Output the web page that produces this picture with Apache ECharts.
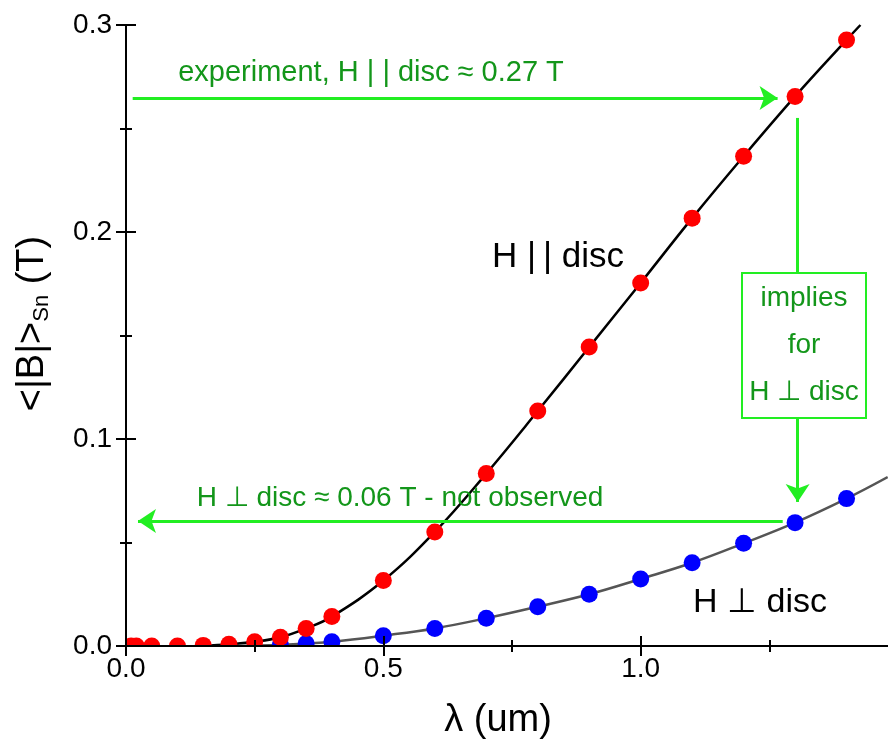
<!DOCTYPE html>
<html>
<head>
<meta charset="utf-8">
<script src="https://cdn.jsdelivr.net/npm/echarts@6/dist/echarts.min.js"></script>
<style>
  html, body { margin: 0; padding: 0; background: #fff; }
  #chart { width: 888px; height: 744px; }
</style>
</head>
<body>
<div id="chart"></div>
<script>
// H || disc, red points
const lambdaPar = [0.01, 0.02, 0.05, 0.1, 0.15, 0.2, 0.25, 0.3, 0.35, 0.4, 0.5, 0.6, 0.7, 0.8, 0.9, 1.0, 1.1, 1.2, 1.3, 1.4]
const bPar = [0, 0, 0, 0, 0.0003, 0.0008, 0.002, 0.0042, 0.0085, 0.0142, 0.0316, 0.0551, 0.0833, 0.1135, 0.1444, 0.1754, 0.2067, 0.2366, 0.2655, 0.2928]
// H ⊥ disc, blue points
const lambdaPerp = [0.3, 0.35, 0.4, 0.5, 0.6, 0.7, 0.8, 0.9, 1.0, 1.1, 1.2, 1.3, 1.4]
const bPerp = [0.0005, 0.0012, 0.002, 0.005, 0.0085, 0.0134, 0.019, 0.025, 0.0324, 0.0402, 0.0496, 0.0596, 0.0712]
// where the two curves start and leave the frame
const parStart = [0.15, 0], parEnd = [1.427, 0.3]
const perpStart = [0.2, 0], perpEnd = [1.48, 0.0816]
// annotation levels (data units)
const expLevel = 0.2647, perpLevel = 0.0604, arrowX = 1.305

const font = "Liberation Sans"
const green = "#22ee22", greenText = "#13961a"

const pairs = (xs, ys) => xs.map((x, i) => [x, ys[i]])
const parFit = [parStart].concat(pairs(lambdaPar, bPar).filter(p => p[0] > 0.15), [parEnd])
const perpFit = [perpStart].concat(pairs(lambdaPerp, bPerp), [perpEnd])

const tickStyle = { color: "#000", width: 2 }
function xAx(pos, labels) {
  return {
    type: "value", min: 0, max: 1.5, interval: 0.5, position: pos, z: 10,
    axisLine: { lineStyle: tickStyle },
    axisTick: { inside: true, length: 10, lineStyle: tickStyle },
    minorTick: { show: true, splitNumber: 2, length: 6, lineStyle: tickStyle },
    splitLine: { show: false },
    axisLabel: labels ? {
      color: "#000", fontSize: 28, fontFamily: font, margin: 9,
      formatter: v => (v > 1.2 ? "" : v.toFixed(1))
    } : { show: false }
  }
}
function yAx(pos, labels) {
  return {
    type: "value", min: 0, max: 0.3, interval: 0.1, position: pos, z: 10,
    axisLine: { lineStyle: tickStyle },
    axisTick: { inside: true, length: 10, lineStyle: tickStyle },
    minorTick: { show: true, splitNumber: 2, length: 6, lineStyle: tickStyle },
    splitLine: { show: false },
    axisLabel: labels ? {
      color: "#000", fontSize: 28, fontFamily: font, margin: 14,
      formatter: v => v.toFixed(1)
    } : { show: false }
  }
}

const bottomX = xAx("bottom", true)
bottomX.name = "λ (um)"
bottomX.nameLocation = "middle"
bottomX.nameGap = 56
bottomX.nameTextStyle = { fontSize: 38, fontFamily: font, color: "#000", padding: [0, 28, 0, 0] }

const leftY = yAx("left", true)
leftY.name = "<|B|>{s|Sn} (T)"
leftY.nameLocation = "middle"
leftY.nameRotate = 90
leftY.nameGap = 73
leftY.nameTextStyle = {
  fontSize: 38, fontFamily: font, color: "#000", padding: [0, 0, 0, 24],
  rich: { s: { fontSize: 22, fontFamily: font, color: "#000", padding: [18, 0, 0, 0] } }
}

const arrow = (from, to) => [
  { coord: from, symbol: "none" },
  { coord: to, symbol: "arrow" }
]

const gText = (x, y, text, size) => ({
  type: "text", z: 7, x, y,
  style: { text, fill: greenText, font: `${size || 28}px "${font}"`, align: "center", verticalAlign: "middle" }
})

const chart = echarts.init(document.getElementById("chart"))
chart.setOption({
  animation: false,
  grid: { left: 126, top: 25, width: 772, height: 621, outerBoundsMode: "none", containLabel: false },
  xAxis: [bottomX, xAx("top", false)],
  yAxis: [leftY, yAx("right", false)],
  series: [
    {
      type: "line", data: perpFit, smooth: 0.4,
      showSymbol: false, lineStyle: { color: "#555", width: 2.5 }, z: 2
    },
    {
      type: "line", data: parFit, smooth: 0.4,
      showSymbol: false, lineStyle: { color: "#000", width: 2.5 }, z: 2
    },
    {
      type: "scatter", data: pairs(lambdaPerp, bPerp), symbolSize: 17,
      itemStyle: { color: "#0000ff", opacity: 1 }, z: 3
    },
    {
      type: "scatter", data: pairs(lambdaPar, bPar), symbolSize: 17,
      itemStyle: { color: "#ff0000", opacity: 1 }, z: 4,
      markLine: {
        silent: true, symbolSize: 18, label: { show: false },
        lineStyle: { color: green, width: 3, type: "solid" },
        emphasis: { disabled: true },
        data: [
          arrow([0.013, expLevel], [1.266, expLevel]),
          [{ coord: [arrowX, 0.2551], symbol: "none" }, { coord: [arrowX, 0.1802], symbol: "none" }],
          arrow([arrowX, 0.1102], [arrowX, 0.0696]),
          arrow([1.276, perpLevel], [0.0233, perpLevel])
        ]
      }
    }
  ],
  graphic: [
    // mask outside the frame so edge points look clipped
    { type: "rect", z: 5, silent: true, shape: { x: 0, y: 0, width: 125, height: 744 }, style: { fill: "#fff" } },
    { type: "rect", z: 5, silent: true, shape: { x: 0, y: 647, width: 888, height: 97 }, style: { fill: "#fff" } },
    { type: "rect", z: 6, shape: { x: 742, y: 273, width: 124, height: 145 }, style: { fill: "#fff", stroke: green, lineWidth: 2 } },
    gText(371, 73, "experiment, H | | disc ≈ 0.27 T", 29),
    gText(400, 498, "H ⊥ disc ≈ 0.06 T - not observed"),
    gText(804, 298, "implies"),
    gText(804, 345, "for"),
    gText(804, 392, "H ⊥ disc"),
    { type: "text", z: 7, x: 558, y: 257, style: { text: "H |\u2009| disc", fill: "#000", font: `35px "${font}"`, align: "center", verticalAlign: "middle" } },
    { type: "text", z: 7, x: 760, y: 603, style: { text: "H ⊥ disc", fill: "#000", font: `34px "${font}"`, align: "center", verticalAlign: "middle" } }
  ]
})
</script>
</body>
</html>
